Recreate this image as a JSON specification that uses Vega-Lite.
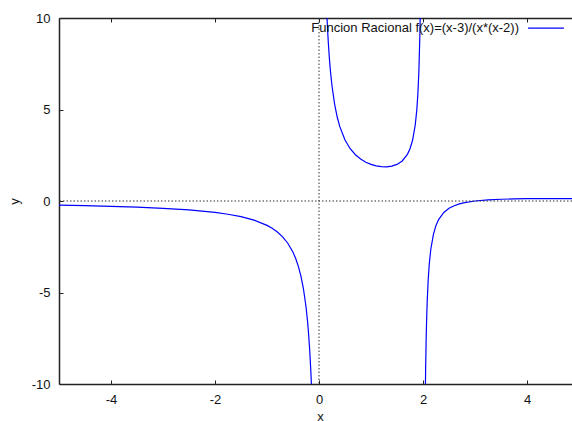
{
  "$schema": "https://vega.github.io/schema/vega-lite/v6.json",
  "autosize": "none",
  "padding": {"left": 59, "top": 18, "right": 0, "bottom": 37},
  "width": 513,
  "height": 366,
  "background": "white",
  "config": {
    "view": {"stroke": null},
    "font": "Liberation Sans",
    "axis": {
      "grid": false,
      "domainColor": "#222",
      "domainWidth": 1.5,
      "tickColor": "#222",
      "tickWidth": 1,
      "labelFont": "Liberation Sans",
      "labelFontSize": 13,
      "labelColor": "#111",
      "titleFont": "Liberation Sans",
      "titleFontSize": 13,
      "titleFontWeight": "normal",
      "titleColor": "#111"
    }
  },
  "datasets": {
    "curve": [
      {"x": -5, "y": -0.2286, "branch": "a"},
      {"x": -4.5, "y": -0.2564, "branch": "a"},
      {"x": -4, "y": -0.2917, "branch": "a"},
      {"x": -3.5, "y": -0.3377, "branch": "a"},
      {"x": -3, "y": -0.4, "branch": "a"},
      {"x": -2.5, "y": -0.4889, "branch": "a"},
      {"x": -2, "y": -0.625, "branch": "a"},
      {"x": -1.75, "y": -0.7238, "branch": "a"},
      {"x": -1.5, "y": -0.8571, "branch": "a"},
      {"x": -1.25, "y": -1.0462, "branch": "a"},
      {"x": -1, "y": -1.3333, "branch": "a"},
      {"x": -0.9, "y": -1.4943, "branch": "a"},
      {"x": -0.8, "y": -1.6964, "branch": "a"},
      {"x": -0.7, "y": -1.9577, "branch": "a"},
      {"x": -0.6, "y": -2.3077, "branch": "a"},
      {"x": -0.5, "y": -2.8, "branch": "a"},
      {"x": -0.45, "y": -3.1293, "branch": "a"},
      {"x": -0.4, "y": -3.5417, "branch": "a"},
      {"x": -0.35, "y": -4.0729, "branch": "a"},
      {"x": -0.3, "y": -4.7826, "branch": "a"},
      {"x": -0.25, "y": -5.7778, "branch": "a"},
      {"x": -0.22, "y": -6.593, "branch": "a"},
      {"x": -0.2, "y": -7.2727, "branch": "a"},
      {"x": -0.18, "y": -8.104, "branch": "a"},
      {"x": -0.16, "y": -9.1435, "branch": "a"},
      {"x": -0.15, "y": -9.767, "branch": "a"},
      {"x": -0.14, "y": -10.48, "branch": "a"},
      {"x": 0.15, "y": 10.27, "branch": "b"},
      {"x": 0.16, "y": 9.647, "branch": "b"},
      {"x": 0.17, "y": 9.097, "branch": "b"},
      {"x": 0.18, "y": 8.608, "branch": "b"},
      {"x": 0.2, "y": 7.778, "branch": "b"},
      {"x": 0.22, "y": 7.099, "branch": "b"},
      {"x": 0.25, "y": 6.2857, "branch": "b"},
      {"x": 0.3, "y": 5.2941, "branch": "b"},
      {"x": 0.35, "y": 4.5887, "branch": "b"},
      {"x": 0.4, "y": 4.0625, "branch": "b"},
      {"x": 0.5, "y": 3.3333, "branch": "b"},
      {"x": 0.6, "y": 2.8571, "branch": "b"},
      {"x": 0.7, "y": 2.5275, "branch": "b"},
      {"x": 0.8, "y": 2.2917, "branch": "b"},
      {"x": 0.9, "y": 2.1212, "branch": "b"},
      {"x": 1.0, "y": 2.0, "branch": "b"},
      {"x": 1.1, "y": 1.9192, "branch": "b"},
      {"x": 1.2, "y": 1.875, "branch": "b"},
      {"x": 1.3, "y": 1.8681, "branch": "b"},
      {"x": 1.4, "y": 1.9048, "branch": "b"},
      {"x": 1.5, "y": 2.0, "branch": "b"},
      {"x": 1.6, "y": 2.1875, "branch": "b"},
      {"x": 1.7, "y": 2.549, "branch": "b"},
      {"x": 1.75, "y": 2.857, "branch": "b"},
      {"x": 1.8, "y": 3.3333, "branch": "b"},
      {"x": 1.85, "y": 4.1441, "branch": "b"},
      {"x": 1.88, "y": 4.9645, "branch": "b"},
      {"x": 1.9, "y": 5.7895, "branch": "b"},
      {"x": 1.92, "y": 7.0313, "branch": "b"},
      {"x": 1.94, "y": 9.1065, "branch": "b"},
      {"x": 1.945, "y": 9.862, "branch": "b"},
      {"x": 1.95, "y": 10.769, "branch": "b"},
      {"x": 2.04, "y": -11.76, "branch": "c"},
      {"x": 2.045, "y": -10.378, "branch": "c"},
      {"x": 2.05, "y": -9.268, "branch": "c"},
      {"x": 2.06, "y": -7.605, "branch": "c"},
      {"x": 2.07, "y": -6.418, "branch": "c"},
      {"x": 2.08, "y": -5.529, "branch": "c"},
      {"x": 2.1, "y": -4.2857, "branch": "c"},
      {"x": 2.12, "y": -3.459, "branch": "c"},
      {"x": 2.15, "y": -2.6357, "branch": "c"},
      {"x": 2.2, "y": -1.8182, "branch": "c"},
      {"x": 2.25, "y": -1.3333, "branch": "c"},
      {"x": 2.3, "y": -1.0145, "branch": "c"},
      {"x": 2.4, "y": -0.625, "branch": "c"},
      {"x": 2.5, "y": -0.4, "branch": "c"},
      {"x": 2.6, "y": -0.2564, "branch": "c"},
      {"x": 2.7, "y": -0.1587, "branch": "c"},
      {"x": 2.8, "y": -0.0893, "branch": "c"},
      {"x": 3.0, "y": 0.0, "branch": "c"},
      {"x": 3.25, "y": 0.0615, "branch": "c"},
      {"x": 3.5, "y": 0.0952, "branch": "c"},
      {"x": 3.75, "y": 0.1143, "branch": "c"},
      {"x": 4.0, "y": 0.125, "branch": "c"},
      {"x": 4.5, "y": 0.1333, "branch": "c"},
      {"x": 5.0, "y": 0.1333, "branch": "c"}
    ],
    "legend": [
      {"x": 4.02, "x2": 4.71, "y": 9.45, "label": "Funcion Racional f(x)=(x-3)/(x*(x-2))", "lx": 3.846}
    ]
  },
  "resolve": {"axis": {"x": "independent", "y": "independent"}},
  "layer": [
    {
      "data": {"name": "curve"},
      "mark": {"type": "line", "color": "#0000ff", "strokeWidth": 1.2, "clip": true, "interpolate": "linear"},
      "encoding": {
        "x": {
          "field": "x", "type": "quantitative",
          "scale": {"domain": [-5, 4.865], "nice": false, "zero": false},
          "axis": {"orient": "bottom", "values": [-4, -2, 0, 2, 4], "ticks": false, "labelExpr": "'' + datum.value", "title": "x", "labelPadding": 9, "titleX": 261, "titleY": 36, "titleBaseline": "alphabetic", "titleAnchor": null}
        },
        "y": {
          "field": "y", "type": "quantitative",
          "scale": {"domain": [-10, 10], "nice": false, "zero": false},
          "axis": {"orient": "left", "values": [-10, -5, 0, 5, 10], "ticks": false, "labelExpr": "'' + datum.value", "title": "y", "labelPadding": 9, "titleX": -45, "titleY": 183, "titleAlign": "center", "titleBaseline": "middle", "titleAngle": -90}
        },
        "detail": {"field": "branch"}
      }
    },
    {
      "data": {"values": [{"v": 0}]},
      "mark": {"type": "rule", "color": "#333", "strokeWidth": 1, "strokeDash": [1.5, 2]},
      "encoding": {"y": {"field": "v", "type": "quantitative", "axis": {"orient": "left", "values": [-10, -5, 0, 5, 10], "offset": -4, "domain": false, "labels": false, "ticks": true, "tickSize": 4, "tickColor": "#222", "tickWidth": 1, "title": null}}}
    },
    {
      "data": {"values": [{"v": 0}]},
      "mark": {"type": "rule", "color": "#333", "strokeWidth": 1, "strokeDash": [1.5, 2]},
      "encoding": {"x": {"field": "v", "type": "quantitative", "axis": {"orient": "bottom", "values": [-4, -2, 0, 2, 4], "offset": -4, "domain": false, "labels": false, "ticks": true, "tickSize": 4, "tickColor": "#222", "tickWidth": 1, "title": null}}}
    },
    {
      "data": {"name": "legend"},
      "mark": {"type": "rule", "color": "#0000ff", "strokeWidth": 1.2},
      "encoding": {
        "x": {"field": "x", "type": "quantitative", "axis": {"orient": "top", "values": [-4, -2, 0, 2, 4], "labels": false, "ticks": false, "title": null}},
        "x2": {"field": "x2"},
        "y": {"field": "y", "type": "quantitative", "axis": null}
      }
    },
    {
      "data": {"name": "legend"},
      "mark": {"type": "text", "align": "right", "baseline": "middle", "font": "Liberation Sans", "fontSize": 13, "color": "#111"},
      "encoding": {
        "x": {"field": "lx", "type": "quantitative", "axis": {"orient": "top", "values": [-4, -2, 0, 2, 4], "offset": -4, "domain": false, "labels": false, "ticks": true, "tickSize": 4, "tickColor": "#222", "tickWidth": 1, "title": null}},
        "y": {"field": "y", "type": "quantitative", "axis": null},
        "text": {"field": "label"}
      }
    }
  ]
}
